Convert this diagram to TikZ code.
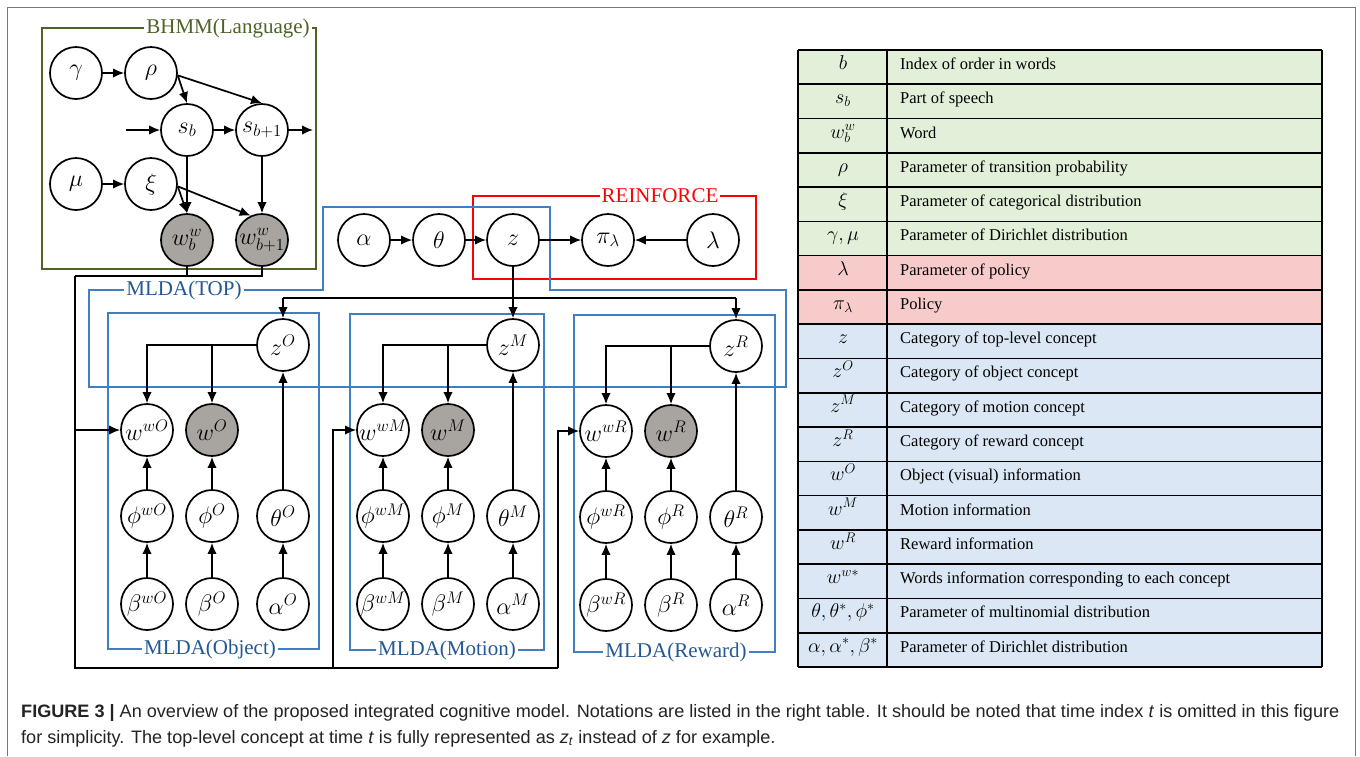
\RequirePackage{fix-cm}
\documentclass[tikz,border=0pt]{standalone}
\usepackage{fontspec}
\setmainfont{Liberation Serif}
\newfontfamily\capfont{Liberation Sans}
\usetikzlibrary{arrows.meta,calc}

\definecolor{bhmmgreen}{RGB}{79,98,40}
\definecolor{mldablue}{RGB}{66,126,194}
\definecolor{mldatext}{RGB}{36,88,148}
\definecolor{reinred}{RGB}{255,0,0}
\definecolor{observed}{RGB}{168,164,160}
\definecolor{rowgreen}{RGB}{226,239,217}
\definecolor{rowred}{RGB}{248,203,203}
\definecolor{rowblue}{RGB}{219,231,244}
\definecolor{framegray}{RGB}{120,120,120}
\definecolor{captext}{RGB}{35,35,35}

\newlength\capw
\newcommand\capfirst{\capfont\fontsize{18}{21}\selectfont\textbf{FIGURE 3 |} An overview of the proposed integrated cognitive model. Notations are listed in the right table. It should be noted that time index \textit{t} is omitted in this figure}
\newcommand\capsecond{\capfont\fontsize{18}{21}\selectfont for simplicity. The top-level concept at time \textit{t} is fully represented as \textit{z}\textsubscript{\textit{t}} instead of \textit{z} for example.}

% one row of the notation table: index, fill, symbol, description
\newcommand\notationrow[4]{%
  \pgfmathsetmacro\ytop{50+#1*34.28}%
  \pgfmathsetmacro\ybot{\ytop+34.28}%
  \pgfmathsetmacro\ymid{\ytop+17.14}%
  \fill[#2] (798,\ytop) rectangle (1322,\ybot);%
  \node[tabsym] (sym#1) at (843,\ymid) {#3};%
  \node[tabtxt] (txt#1) at (900,\ymid) {#4};%
}

\tikzset{
  var/.style={circle, draw, line width=1.7pt, minimum size=52pt, inner sep=0pt,
              fill=white, font=\fontsize{24}{28}\selectfont},
  obsvar/.style={var, fill=observed},
  arr/.style={line width=1.7pt, -{Latex[length=11pt,width=9.5pt]}},
  wire/.style={line width=1.7pt},
  plate/.style={line width=1.4pt},
  platelabel/.style={fill=white, inner sep=2pt, font=\fontsize{21}{24}\selectfont},
  tabsym/.style={anchor=mid, inner sep=0pt, font=\fontsize{20}{22}\selectfont},
  tabtxt/.style={anchor=mid west, inner sep=0pt, font=\fontsize{16.5}{19}\selectfont},
  tabline/.style={line width=1.6pt, black},
  captionline/.style={anchor=base west, inner sep=0pt, text=captext},
}

\begin{document}
\settowidth{\capw}{\capfirst}%
\pgfmathsetmacro\capscale{1318/\capw}%
\begin{tikzpicture}[x=1pt,y=-1pt]
\useasboundingbox (0,0) rectangle (1360,756);

% outer frame, open at the bottom
\draw[framegray, line width=1pt] (7,756) -- (7,7) -- (1355,7) -- (1355,756);

% ---------------- plates ----------------
\draw[plate, bhmmgreen] (42,28) rectangle (316,269);
\draw[plate, reinred] (473,196) rectangle (756,279);
\draw[plate, mldablue] (89,290) -- (323,290) -- (323,207) -- (550,207) -- (550,290)
      -- (786,290) -- (786,387) -- (89,387) -- cycle;
\draw[plate, mldablue] (108,313) rectangle (319,649);
\draw[plate, mldablue] (350,314) rectangle (544,650);
\draw[plate, mldablue] (574,315) rectangle (775,652);

\node[platelabel, text=bhmmgreen] (lblbhmm) at (228,28) {BHMM(Language)};
\node[platelabel, text=reinred] (lblrein) at (660,196) {REINFORCE};
\node[platelabel, text=mldatext] (lbltop) at (184,290) {MLDA(TOP)};
\node[platelabel, text=mldatext] (lblobj) at (210,649) {MLDA(Object)};
\node[platelabel, text=mldatext] (lblmot) at (447,650) {MLDA(Motion)};
\node[platelabel, text=mldatext] (lblrew) at (676,652) {MLDA(Reward)};

% ---------------- BHMM (language) ----------------
\node[var] (gam) at (76,73) {$\gamma$};
\node[var] (rho) at (151,73) {$\rho$};
\node[var] (sb) at (187,130) {$s_b$};
\node[var] (sbn) at (262,130) {$s_{b+1}$};
\node[var] (mu) at (76,184) {$\mu$};
\node[var] (xi) at (151,184) {$\xi$};
\node[obsvar] (wb) at (187,240) {$w_b^w$};
\node[obsvar] (wbn) at (262,240) {$w_{b+1}^w$};
\coordinate (sin) at (126,130);
\coordinate (sout) at (313,130);

\draw[arr] (gam) -- (rho);
\draw[arr] (mu) -- (xi);
\draw[arr] (rho.-5) -- (sb.north);
\draw[arr] (rho.-5) -- (sbn.north);
\draw[arr] (xi.-5) -- (wb.north);
\draw[arr] (xi.-5) -- (wbn.115);
\draw[arr] (sin) -- (sb);
\draw[arr] (sb) -- (sbn);
\draw[arr] (sbn) -- (sout);
\draw[arr] (sb) -- (wb);
\draw[arr] (sbn) -- (wbn);

% ---------------- top level + REINFORCE ----------------
\node[var] (alpha) at (364,240) {$\alpha$};
\node[var] (theta) at (439,240) {$\theta$};
\node[var] (z) at (513,240) {$z$};
\node[var] (pil) at (608,240) {$\pi_\lambda$};
\node[var] (lam) at (713,240) {$\lambda$};
\draw[arr] (alpha) -- (theta);
\draw[arr] (theta) -- (z);
\draw[arr] (z) -- (pil);
\draw[arr] (lam) -- (pil);

% ---------------- MLDA panels ----------------
% object
\node[var] (zO) at (283,345) {$z^O$};
\node[var] (wwO) at (147,430) {$w^{wO}$};
\node[obsvar] (wO) at (212,430) {$w^O$};
\node[var] (phwO) at (147,516) {$\phi^{wO}$};
\node[var] (phO) at (212,516) {$\phi^O$};
\node[var] (thO) at (283,516) {$\theta^O$};
\node[var] (bewO) at (147,604) {$\beta^{wO}$};
\node[var] (beO) at (212,604) {$\beta^O$};
\node[var] (alO) at (283,604) {$\alpha^O$};
% motion
\node[var] (zM) at (513,345) {$z^M$};
\node[var] (wwM) at (383,430) {$w^{wM}$};
\node[obsvar] (wM) at (448,430) {$w^M$};
\node[var] (phwM) at (383,516) {$\phi^{wM}$};
\node[var] (phM) at (448,516) {$\phi^M$};
\node[var] (thM) at (513,516) {$\theta^M$};
\node[var] (bewM) at (383,604) {$\beta^{wM}$};
\node[var] (beM) at (448,604) {$\beta^M$};
\node[var] (alM) at (513,604) {$\alpha^M$};
% reward
\node[var] (zR) at (736,346) {$z^R$};
\node[var] (wwR) at (606,431) {$w^{wR}$};
\node[obsvar] (wR) at (671,431) {$w^R$};
\node[var] (phwR) at (606,517) {$\phi^{wR}$};
\node[var] (phR) at (671,517) {$\phi^R$};
\node[var] (thR) at (736,517) {$\theta^R$};
\node[var] (bewR) at (606,605) {$\beta^{wR}$};
\node[var] (beR) at (671,605) {$\beta^R$};
\node[var] (alR) at (736,605) {$\alpha^R$};

\foreach \p in {O,M,R}{
  \draw[arr] (bew\p) -- (phw\p);
  \draw[arr] (be\p) -- (ph\p);
  \draw[arr] (al\p) -- (th\p);
  \draw[arr] (phw\p) -- (ww\p);
  \draw[arr] (ph\p) -- (w\p);
  \draw[arr] (th\p) -- (z\p);
  \draw[arr] (z\p) -| (ww\p);
  \draw[arr] (w\p |- z\p) -- (w\p);
}

% top-level concept to the three sub-concepts
\coordinate (bus) at (0,298);
\draw[arr] (z) -- (zM);
\draw[wire] (bus -| zO) -- (bus -| zR);
\draw[arr] (bus -| zO) -- (zO);
\draw[arr] (bus -| zR) -- (zR);

% words from the language model to every concept
\coordinate (feedL) at (75,276);
\coordinate (feedB) at (75,668);
\coordinate (feedM) at (333,668);
\coordinate (feedR) at (558,668);
\draw[wire] (wb) |- (feedL);
\draw[wire] (wbn) |- (feedL);
\draw[wire] (feedL) -- (feedB) -- (feedR);
\draw[arr] (feedB |- wwO) -- (wwO);
\draw[arr] (feedM) |- (wwM);
\draw[arr] (feedR) |- (wwR);

% ---------------- notation table ----------------
\notationrow{0}{rowgreen}{$b$}{Index of order in words}
\notationrow{1}{rowgreen}{$s_b$}{Part of speech}
\notationrow{2}{rowgreen}{$w_b^w$}{Word}
\notationrow{3}{rowgreen}{$\rho$}{Parameter of transition probability}
\notationrow{4}{rowgreen}{$\xi$}{Parameter of categorical distribution}
\notationrow{5}{rowgreen}{$\gamma,\mu$}{Parameter of Dirichlet distribution}
\notationrow{6}{rowred}{$\lambda$}{Parameter of policy}
\notationrow{7}{rowred}{$\pi_\lambda$}{Policy}
\notationrow{8}{rowblue}{$z$}{Category of top-level concept}
\notationrow{9}{rowblue}{$z^O$}{Category of object concept}
\notationrow{10}{rowblue}{$z^M$}{Category of motion concept}
\notationrow{11}{rowblue}{$z^R$}{Category of reward concept}
\notationrow{12}{rowblue}{$w^O$}{Object (visual) information}
\notationrow{13}{rowblue}{$w^M$}{Motion information}
\notationrow{14}{rowblue}{$w^R$}{Reward information}
\notationrow{15}{rowblue}{$w^{w*}$}{Words information corresponding to each concept}
\notationrow{16}{rowblue}{$\theta,\theta^*,\phi^*$}{Parameter of multinomial distribution}
\notationrow{17}{rowblue}{$\alpha,\alpha^*,\beta^*$}{Parameter of Dirichlet distribution}
\foreach \i in {0,...,18}
  \draw[tabline] (798,{50+\i*34.28}) -- (1322,{50+\i*34.28});
\draw[tabline] (798,50) -- (798,667.04);
\draw[tabline] (887,50) -- (887,667.04);
\draw[tabline] (1322,50) -- (1322,667.04);

% ---------------- caption ----------------
\node[captionline] (cap1) at (21,717) {\scalebox{\capscale}[1]{\capfirst}};
\node[captionline] (cap2) at (21,743) {\scalebox{\capscale}[1]{\capsecond}};
\end{tikzpicture}
\end{document}
